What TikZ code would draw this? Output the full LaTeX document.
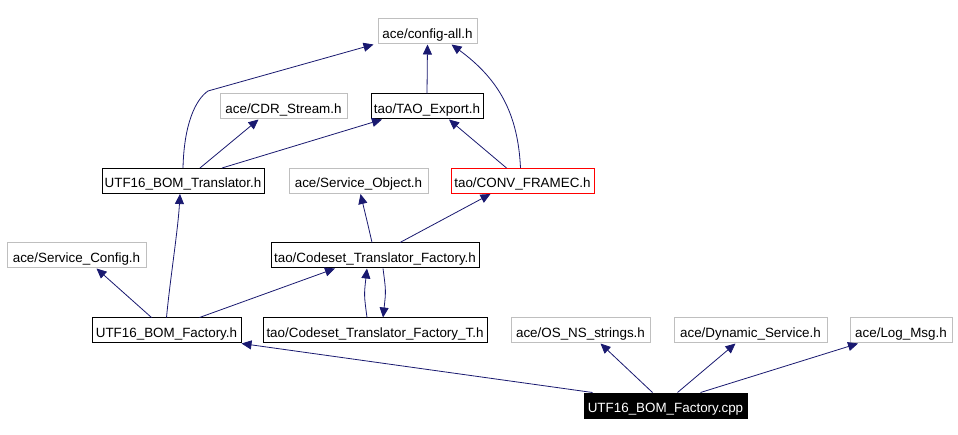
\documentclass[tikz,border=0pt]{standalone}
\usepackage{fontspec}
\setmainfont{Liberation Sans}
\usetikzlibrary{arrows.meta}
\definecolor{edgeblue}{HTML}{191970}
\definecolor{greyline}{HTML}{BFBFBF}
\tikzset{
  box/.style={draw=black, line width=1pt, rectangle, minimum height=25pt, inner sep=0pt, text height=14pt, text depth=0pt, font=\fontsize{13.4}{15}\selectfont, text=black},
  greybox/.style={box, draw=greyline},
  redbox/.style={box, draw=red},
  mainbox/.style={box, fill=black, text=white},
  dep/.style={draw=edgeblue, line width=0.8pt, -{Triangle[length=10pt,width=9pt,fill=edgeblue]}}
}
\begin{document}
\begin{tikzpicture}[x=1pt,y=-1pt]
\useasboundingbox (0,0) rectangle (958,435);
\fill[white] (0,0) rectangle (958,435);
% nodes
\node[greybox, minimum width=99pt] (cfg) at (427.5,31.5) {ace/config-all.h};
\node[greybox, minimum width=127pt] (cdr) at (283.5,106.5) {ace/CDR\_Stream.h};
\node[box, minimum width=112pt] (tao) at (427,106.5) {tao/TAO\_Export.h};
\node[box, minimum width=162pt] (trans) at (183,181) {UTF16\_BOM\_Translator.h};
\node[greybox, minimum width=139pt] (sobj) at (358.5,181) {ace/Service\_Object.h};
\node[redbox, minimum width=143pt] (conv) at (522.5,181) {tao/CONV\_FRAMEC.h};
\node[greybox, minimum width=139pt] (scfg) at (76.5,255.5) {ace/Service\_Config.h};
\node[box, minimum width=208pt] (ctf) at (375,255.5) {tao/Codeset\_Translator\_Factory.h};
\node[box, minimum width=149pt] (fact) at (166.5,330.5) {UTF16\_BOM\_Factory.h};
\node[box, minimum width=224pt] (ctft) at (375,330.5) {tao/Codeset\_Translator\_Factory\_T.h};
\node[greybox, minimum width=139pt] (osns) at (580.5,330.5) {ace/OS\_NS\_strings.h};
\node[greybox, minimum width=153pt] (dyn) at (750.5,330.5) {ace/Dynamic\_Service.h};
\node[greybox, minimum width=102pt] (log) at (901,330.5) {ace/Log\_Msg.h};
\node[mainbox, minimum width=163pt] (cpp) at (665.5,405.5) {UTF16\_BOM\_Factory.cpp};
% edges
\coordinate (bend1) at (208,91);
\draw[edgeblue, line width=0.8pt] (trans.north) .. controls (184,125) and (195,100) .. (bend1);
\draw[dep] (bend1) -- ([xshift=-4pt]cfg.south west);
\draw[dep] ([xshift=17pt]trans.north) -- ([xshift=-25pt]cdr.south);
\draw[dep] ([xshift=39pt]trans.north) -- ([xshift=-45pt]tao.south);
\draw[dep] (tao.north) -- (cfg.south);
\draw[dep] ([xshift=-2pt]conv.north) .. controls (518,115) and (500,80) .. ([xshift=24pt]cfg.south);
\draw[dep] ([xshift=-16pt]conv.north) -- ([xshift=22pt]tao.south);
\draw[dep] ([xshift=-3pt]ctf.north) .. controls (368,225) .. ([xshift=2pt]sobj.south);
\draw[dep] ([xshift=25pt]ctf.north) -- ([xshift=-32pt]conv.south);
\draw[dep] ([xshift=-15pt]fact.north) -- ([xshift=20pt]scfg.south);
\draw[dep] (fact.north) .. controls (170,280) and (178,230) .. ([xshift=-3pt]trans.south);
\draw[dep] ([xshift=33pt]fact.north) -- ([xshift=-40pt]ctf.south);
\draw[dep] ([xshift=-8pt]ctft.north) .. controls (364,295) .. ([xshift=-8pt]ctf.south);
\draw[dep] ([xshift=8pt]ctf.south) .. controls (386,291) .. ([xshift=8pt]ctft.north);
\draw[dep] ([xshift=-73pt]cpp.north) -- (fact.south east);
\draw[dep] ([xshift=-13pt]cpp.north) -- ([xshift=20pt]osns.south);
\draw[dep] ([xshift=12pt]cpp.north) -- ([xshift=-15pt]dyn.south);
\draw[dep] ([xshift=35pt]cpp.north) -- ([xshift=-43pt]log.south);
\end{tikzpicture}
\end{document}
